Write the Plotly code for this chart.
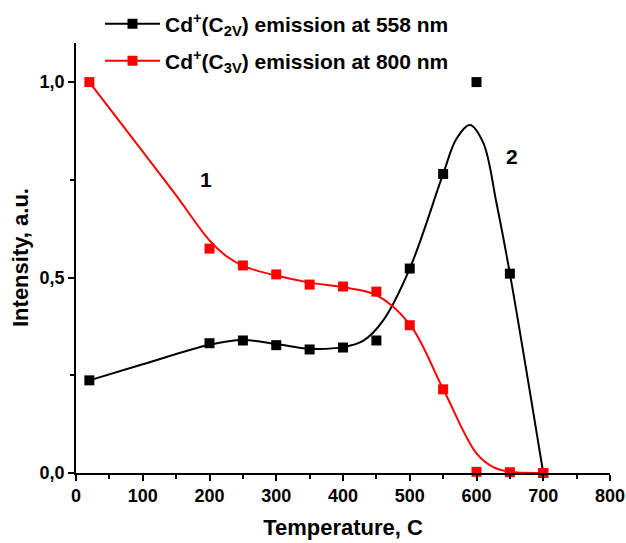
import plotly.graph_objects as go

# Measured data points
temps = [20, 200, 250, 300, 350, 400, 450, 500, 550, 600, 650, 700]
c2v_558 = [0.237, 0.332, 0.339, 0.327, 0.316, 0.321, 0.339, 0.523, 0.765, 1.0, 0.51, 0.0]
c3v_800 = [1.0, 0.574, 0.531, 0.508, 0.482, 0.477, 0.464, 0.378, 0.214, 0.003, 0.002, 0.0]

# Smoothed fit curves
fit_t_black = [20, 100, 200, 250, 300, 350, 400, 430, 460, 500, 550, 570, 590, 610, 630, 650, 700]
fit_black = [0.237, 0.278, 0.328, 0.340, 0.330, 0.318, 0.322, 0.338, 0.39, 0.523, 0.765, 0.855, 0.89, 0.845, 0.69, 0.51, 0.0]
fit_t_red = [20, 100, 150, 200, 225, 250, 300, 350, 400, 450, 500, 550, 600, 625, 650, 700]
fit_red = [1.0, 0.822, 0.71, 0.595, 0.555, 0.53, 0.505, 0.487, 0.475, 0.455, 0.38, 0.215, 0.05, 0.015, 0.003, 0.0]

x_ticks = [0, 100, 200, 300, 400, 500, 600, 700, 800]
y_ticks = [0.0, 0.5, 1.0]
y_tick_text = ["0,0", "0,5", "1,0"]

name_black = "Cd<sup>+</sup>(C<sub>2V</sub>) emission at 558 nm"
name_red = "Cd<sup>+</sup>(C<sub>3V</sub>) emission at 800 nm"
x_title = "Temperature, C"
y_title = "Intensity, a.u."

FONT = "Liberation Sans, Arial, sans-serif"
RED = "#ff0000"

fig = go.Figure()
fig.add_trace(go.Scatter(x=fit_t_black, y=fit_black, mode="lines", line=dict(color="black", width=2, shape="spline", smoothing=1.0), showlegend=False, hoverinfo="skip"))
fig.add_trace(go.Scatter(x=fit_t_red, y=fit_red, mode="lines", line=dict(color=RED, width=2, shape="spline", smoothing=1.0), showlegend=False, hoverinfo="skip"))
fig.add_trace(go.Scatter(x=temps, y=c2v_558, mode="markers", marker=dict(symbol="square", size=10, color="black"), showlegend=False, cliponaxis=False))
fig.add_trace(go.Scatter(x=temps, y=c3v_800, mode="markers", marker=dict(symbol="square", size=10, color=RED), showlegend=False, cliponaxis=False))
# legend entries
fig.add_trace(go.Scatter(x=[None], y=[None], mode="lines+markers", name=name_black, line=dict(color="black", width=2), marker=dict(symbol="square", size=10, color="black"), legend="legend"))
fig.add_trace(go.Scatter(x=[None], y=[None], mode="lines+markers", name=name_red, line=dict(color=RED, width=2), marker=dict(symbol="square", size=10, color=RED), legend="legend2"))

fig.add_annotation(x=195, y=0.75, text="1", showarrow=False, font=dict(family=FONT, size=21, color="black", weight="bold"))
fig.add_annotation(x=653, y=0.81, text="2", showarrow=False, font=dict(family=FONT, size=21, color="black", weight="bold"))
# y-axis title
fig.add_annotation(xref="paper", yref="paper", x=(20 - 76) / 534, y=0.5, text=y_title, textangle=-90, showarrow=False,
                   xanchor="center", yanchor="middle", font=dict(family=FONT, size=22, color="black", weight="bold"))

legend_common = dict(font=dict(family=FONT, size=21, color="black", weight="bold"), bgcolor="rgba(0,0,0,0)", itemwidth=55,
                     xanchor="left", yanchor="middle", xref="container", yref="container")

fig.update_layout(
    width=626, height=543,
    margin=dict(l=76, r=16, t=43, b=70, autoexpand=False),
    paper_bgcolor="white", plot_bgcolor="white",
    font=dict(family=FONT, color="black"),
    legend=dict(x=100 / 626, y=1 - 24 / 543, **legend_common),
    legend2=dict(x=100 / 626, y=1 - 61 / 543, **legend_common),
    xaxis=dict(
        range=[0, 800], tickvals=x_ticks, ticks="outside", ticklen=6, tickwidth=1.5, tickcolor="black",
        showline=True, linecolor="black", linewidth=1.5, showgrid=False, zeroline=False,
        tickfont=dict(family=FONT, size=18, color="black", weight="bold"),
        minor=dict(dtick=50, ticks="outside", ticklen=4, tickwidth=1.5, tickcolor="black", showgrid=False),
        title=dict(text=x_title, font=dict(family=FONT, size=22, color="black", weight="bold"), standoff=14),
    ),
    yaxis=dict(
        range=[0, 1.1], tickvals=y_ticks, ticktext=y_tick_text, ticks="outside", ticklen=6, tickwidth=1.5, tickcolor="black",
        showline=True, linecolor="black", linewidth=1.5, showgrid=False, zeroline=False,
        tickfont=dict(family=FONT, size=18, color="black", weight="bold"),
        minor=dict(tickvals=[0.25, 0.75], ticks="outside", ticklen=4, tickwidth=1.5, tickcolor="black", showgrid=False),
    ),
)

fig.write_html("out.html")
